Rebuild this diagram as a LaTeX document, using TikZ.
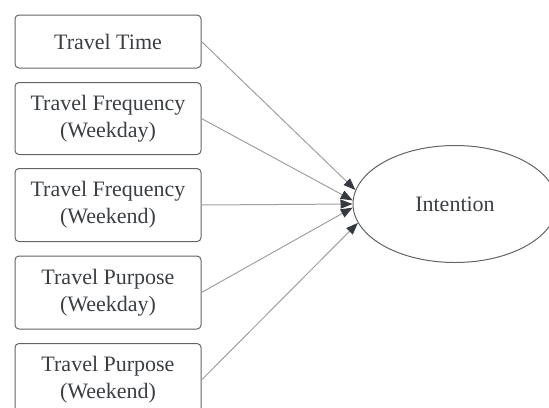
\documentclass[tikz,border=0pt]{standalone}
\usepackage{fontspec}
\setmainfont{Liberation Serif}
\usetikzlibrary{arrows.meta,shapes.geometric,positioning}
\definecolor{textgray}{RGB}{58,63,68}
\definecolor{boxgray}{RGB}{100,100,100}
\definecolor{linegray}{RGB}{160,160,160}
\definecolor{headgray}{RGB}{52,58,64}

\begin{document}
\begin{tikzpicture}[x=0.5pt,y=-0.5pt,
    -{Triangle[length=6pt,width=4.5pt,color=headgray]},draw=linegray,line width=0.5pt]
  \tikzstyle{every node}=[text=textgray,font=\fontsize{11}{13.5}\selectfont,align=center]
  \tikzstyle{var}=[draw=boxgray,rounded corners=2pt,minimum width=93pt,inner sep=0pt]
  \tikzstyle{latent}=[draw=boxgray,ellipse,minimum width=102pt,minimum height=58.5pt,inner sep=0pt]

  \useasboundingbox (0,0) rectangle (549,407);

  \node[var,minimum height=26.5pt] (TT)  at (108,41.5) {Travel Time};
  \node[var,minimum height=36pt]   (TFD) [below=6.75pt of TT]  {Travel Frequency\\(Weekday)};
  \node[var,minimum height=36.5pt] (TFE) [below=6.5pt of TFD] {Travel Frequency\\(Weekend)};
  \node[var,minimum height=36.5pt] (TPD) [below=6.75pt of TFE] {Travel Purpose\\(Weekday)};
  \node[var,minimum height=36.5pt] (TPE) [below=6.75pt of TPD] {Travel Purpose\\(Weekend)};

  \node[latent] (I) at (455,204) {Intention};

  \draw (TT.east)  -- (I.172);
  \draw (TFD.east) -- (I.178);
  \draw (TFE.east) -- (I.180);
  \draw (TPD.east) -- (I.182);
  \draw (TPE.east) -- (I.191);
\end{tikzpicture}
\end{document}
